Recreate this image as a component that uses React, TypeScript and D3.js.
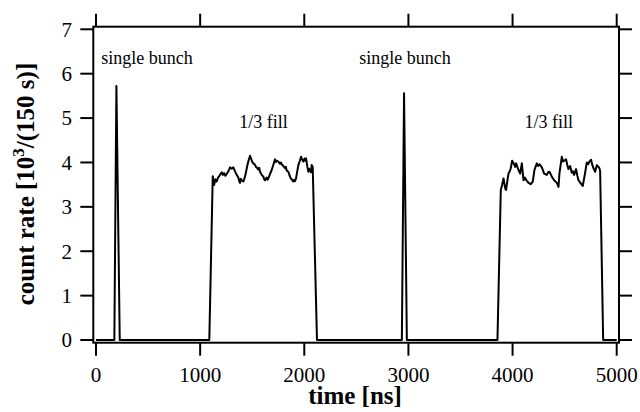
import React from "react";
import * as d3 from "d3";

// ---- data ----
const xTicks = [0, 1000, 2000, 3000, 4000, 5000];
const yTicks = [0, 1, 2, 3, 4, 5, 6, 7];

// single bunch spikes: [time ns, count]
const spike1T = [0, 176, 196, 228];
const spike1V = [0, 0, 5.72, 0];
const spike2T = [2937, 2958, 2985];
const spike2V = [0, 5.56, 0];

// 1/3 fill plateau #1
const fill1T = [1088, 1121, 1134, 1147, 1159, 1172, 1185, 1196, 1207, 1218, 1230, 1242, 1255, 1271, 1287, 1303, 1319, 1335, 1351, 1367, 1375, 1383, 1391, 1399, 1415, 1431, 1442, 1454, 1466, 1479, 1495, 1503, 1511, 1527, 1535, 1543, 1559, 1567, 1575, 1591, 1607, 1615, 1623, 1639, 1647, 1655, 1671, 1687, 1703, 1719, 1727, 1735, 1751, 1767, 1775, 1783, 1799, 1815, 1823, 1831, 1847, 1863, 1871, 1879, 1895, 1903, 1911, 1921, 1934, 1943, 1959, 1969, 1981, 1991, 2004, 2010, 2017, 2030, 2039, 2047, 2055, 2065, 2071, 2081, 2122];
const fill1V = [0, 3.69, 3.49, 3.62, 3.57, 3.66, 3.70, 3.74, 3.78, 3.72, 3.76, 3.70, 3.74, 3.80, 3.89, 3.86, 3.89, 3.80, 3.72, 3.66, 3.58, 3.54, 3.63, 3.60, 3.57, 3.68, 3.80, 3.94, 4.05, 4.15, 4.05, 4.00, 3.98, 3.95, 3.90, 3.89, 3.84, 3.88, 3.79, 3.72, 3.68, 3.62, 3.60, 3.66, 3.61, 3.64, 3.74, 3.83, 3.95, 4.07, 4.01, 4.04, 4.02, 3.97, 4.00, 3.96, 3.92, 3.87, 3.90, 3.82, 3.79, 3.68, 3.64, 3.62, 3.57, 3.61, 3.58, 3.64, 3.82, 3.94, 4.05, 4.13, 4.06, 4.02, 4.09, 4.04, 4.09, 3.90, 3.79, 3.86, 3.83, 3.78, 3.94, 3.90, 0];

// 1/3 fill plateau #2
const fill2T = [3855, 3887, 3900, 3913, 3929, 3938, 3951, 3961, 3972, 3983, 3996, 4015, 4025, 4034, 4057, 4073, 4089, 4105, 4118, 4130, 4153, 4175, 4194, 4210, 4233, 4245, 4258, 4281, 4292, 4303, 4329, 4342, 4354, 4377, 4388, 4399, 4425, 4441, 4450, 4473, 4484, 4495, 4514, 4525, 4537, 4553, 4569, 4580, 4591, 4610, 4622, 4633, 4655, 4674, 4697, 4713, 4725, 4738, 4754, 4765, 4777, 4793, 4809, 4825, 4834, 4841, 4870, 5000];
const fill2V = [0, 3.38, 3.50, 3.64, 3.42, 3.38, 3.60, 3.75, 3.80, 3.87, 4.04, 3.96, 3.90, 3.98, 3.83, 3.75, 3.98, 3.60, 3.66, 3.61, 3.54, 3.51, 3.57, 3.83, 3.98, 3.92, 3.96, 3.89, 3.82, 3.75, 3.72, 3.78, 3.79, 3.68, 3.64, 3.60, 3.54, 3.45, 3.75, 4.13, 4.02, 4.04, 4.07, 3.95, 3.85, 3.92, 3.77, 3.80, 3.72, 3.85, 3.70, 3.60, 3.53, 3.47, 3.77, 4.00, 3.96, 4.02, 4.06, 3.95, 3.87, 3.79, 3.94, 3.90, 3.87, 3.80, 0, 0];

const annotations = [
  { text: "single bunch", t: 490, v: 6.21 },
  { text: "single bunch", t: 2968, v: 6.21 },
  { text: "1/3 fill", t: 1609, v: 4.78 },
  { text: "1/3 fill", t: 4347, v: 4.78 },
];

const W = 640;
const H = 412;
const box = { left: 93.3, right: 619, top: 26.7, bottom: 342.7 };
const TICK = 13;
const FONT = "'Liberation Serif', 'Times New Roman', serif";

export default function App() {
  const x = d3.scaleLinear().domain([0, 5000]).range([96, 616.7]);
  const y = d3.scaleLinear().domain([0, 7]).range([340, 29.3]);

  const pts: [number, number][] = [];
  const push = (ts: number[], vs: number[]) => ts.forEach((t, i) => pts.push([t, vs[i]]));
  push(spike1T, spike1V);
  push(fill1T, fill1V);
  push(spike2T, spike2V);
  push(fill2T, fill2V);

  const line = d3
    .line<[number, number]>()
    .x((d) => x(d[0]))
    .y((d) => y(d[1]));

  return (
    <svg width={W} height={H} style={{ position: "absolute", left: 0, top: 0, background: "#fff" }}>
      <rect x={0} y={0} width={W} height={H} fill="#fff" />
      {/* ticks */}
      {xTicks.map((t) => (
        <g key={"x" + t}>
          <line x1={x(t)} x2={x(t)} y1={box.bottom} y2={box.bottom + TICK} stroke="#000" strokeWidth={2} />
          <line x1={x(t)} x2={x(t)} y1={box.top} y2={box.top - TICK} stroke="#000" strokeWidth={2} />
          <text x={x(t)} y={382} textAnchor="middle" fontFamily={FONT} fontSize={21} fill="#000">
            {t}
          </text>
        </g>
      ))}
      {yTicks.map((v) => (
        <g key={"y" + v}>
          <line x1={box.left} x2={box.left - TICK} y1={y(v)} y2={y(v)} stroke="#000" strokeWidth={2} />
          <line x1={box.right} x2={box.right + TICK} y1={y(v)} y2={y(v)} stroke="#000" strokeWidth={2} />
          <text x={72} y={y(v)} dy="0.35em" textAnchor="end" fontFamily={FONT} fontSize={21} fill="#000">
            {v}
          </text>
        </g>
      ))}
      {/* frame */}
      <rect
        x={box.left}
        y={box.top}
        width={box.right - box.left}
        height={box.bottom - box.top}
        fill="none"
        stroke="#000"
        strokeWidth={2}
      />
      {/* data */}
      <path d={line(pts) || ""} fill="none" stroke="#000" strokeWidth={2} strokeLinejoin="round" />
      {/* annotations */}
      {annotations.map((a, i) => (
        <text key={i} x={x(a.t)} y={y(a.v)} textAnchor="middle" fontFamily={FONT} fontSize={18} fill="#000">
          {a.text}
        </text>
      ))}
      {/* axis titles */}
      <text x={355} y={404} textAnchor="middle" fontFamily={FONT} fontSize={25} fontWeight="bold" fill="#000">
        time [ns]
      </text>
      <text
        transform="translate(34,184) rotate(-90)"
        textAnchor="middle"
        fontFamily={FONT}
        fontSize={25}
        fontWeight="bold"
        fill="#000"
      >
        count rate [10
        <tspan dy={-10} fontSize={17}>3</tspan>
        <tspan dy={10}>/(150 s)]</tspan>
      </text>
    </svg>
  );
}
